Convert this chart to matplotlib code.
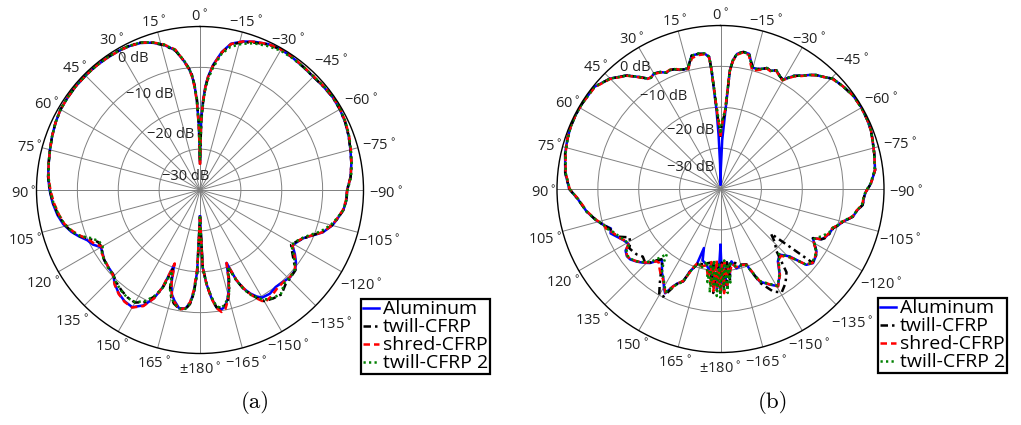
import numpy as np
import matplotlib
matplotlib.use("Agg")
import matplotlib.pyplot as plt
from matplotlib import font_manager

# first installed humanist sans
FONT = 'DejaVu Sans'
for name in ['Open Sans', 'Lato', 'Noto Sans']:
    try:
        font_manager.findfont(font_manager.FontProperties(family=name),
                              fallback_to_default=False)
        FONT = name
        break
    except Exception:
        pass
plt.rcParams['font.family'] = [FONT, 'DejaVu Sans']
plt.rcParams['mathtext.fontset'] = 'dejavusans'

# ---- data: angle (deg, ccw from top) and normalised gain (dB) ----
SERIES = ['Aluminum', 'twill-CFRP', 'shred-CFRP', 'twill-CFRP 2']

A_ANG = [-180, -178, -176, -174, -172, -170, -168, -166, -164, -162,
         -160, -158, -156, -154, -152, -150, -146, -142, -138, -134,
         -130, -127, -124, -121, -118, -115, -112, -109, -105, -102,
         -98, -94, -90, -85, -80, -75, -70, -65, -60, -55,
         -50, -45, -40, -35, -30, -25, -20, -16, -12, -9,
         -6, -4, -3, -2, -1, 0, 1, 2, 3, 4,
         5, 7, 10, 14, 18, 22, 26, 30, 35, 40,
         45, 50, 55, 60, 65, 70, 75, 80, 85, 90,
         95, 100, 104, 108, 111, 114, 117, 120, 123, 126,
         130, 134, 138, 142, 146, 150, 154, 157, 159, 161,
         163, 165, 167, 170, 173, 175, 176.5, 178, 180]

A_ALU = [-33.5, -21.0, -16.9, -13.5, -11.0, -10.3, -10.8, -12.3, -14.5, -17.5,
         -21.0, -16.1, -13.5, -11.8, -10.5, -9.6, -9.4, -9.9, -9.7, -9.3,
         -9.6, -10.6, -12.0, -13.6, -13.0, -12.1, -10.3, -8.2, -6.5, -5.7,
         -4.6, -4.1, -4.0, -3.0, -2.4, -1.9, -1.3, -0.8, -0.5, -0.4,
         -0.6, -0.8, -0.7, -0.5, -0.3, -0.6, -1.4, -2.2, -3.4, -5.8,
         -9.2, -12.3, -14.6, -18.0, -22.5, -33.0, -24.5, -18.0, -14.5, -12.0,
         -10.5, -8.3, -5.3, -3.4, -2.1, -1.2, -0.8, -0.6, -0.5, -0.4,
         -0.4, -0.4, -0.5, -0.6, -1.0, -1.5, -2.0, -2.4, -2.7, -3.2,
         -3.8, -4.6, -5.5, -6.9, -8.3, -9.8, -10.6, -12.0, -11.6, -11.0,
         -10.7, -10.4, -8.9, -7.8, -7.1, -6.9, -8.6, -11.3, -14.5, -20.5,
         -16.0, -13.5, -12.2, -10.6, -10.8, -12.3, -15.0, -20.0, -33.5]

A_TWILL = [-33.5, -21.0, -16.9, -13.5, -11.0, -10.8, -11.0, -12.0, -14.0, -17.0,
           -20.0, -16.0, -13.3, -11.5, -10.0, -8.6, -8.0, -7.6, -8.8, -9.2,
           -9.5, -11.3, -12.8, -14.0, -13.2, -12.0, -10.4, -8.4, -6.6, -5.7,
           -4.6, -4.1, -4.0, -3.0, -2.4, -1.9, -1.3, -0.8, -0.5, -0.4,
           -0.6, -0.8, -0.7, -0.5, -0.3, -0.7, -1.6, -2.4, -3.6, -6.0,
           -9.5, -12.6, -15.0, -18.5, -23.0, -33.5, -24.0, -17.5, -14.2, -11.8,
           -10.3, -8.2, -5.4, -3.5, -2.1, -1.1, -0.7, -0.5, -0.4, -0.4,
           -0.4, -0.4, -0.5, -0.6, -1.0, -1.5, -2.0, -2.4, -2.7, -3.2,
           -3.9, -4.8, -5.7, -7.0, -8.5, -10.5, -12.0, -12.2, -11.5, -11.0,
           -10.6, -10.4, -9.5, -8.8, -8.3, -8.2, -9.5, -11.8, -14.0, -19.5,
           -15.0, -12.8, -11.5, -10.5, -10.6, -12.0, -14.5, -19.5, -33.0]

A_SHRED = [-33.5, -21.0, -16.8, -13.4, -10.8, -9.7, -10.2, -12.0, -14.4, -17.5,
           -21.0, -16.3, -13.6, -11.5, -9.8, -8.3, -8.7, -9.4, -9.6, -9.4,
           -9.7, -10.8, -12.2, -13.6, -13.1, -12.2, -10.4, -8.3, -6.6, -5.8,
           -4.7, -4.2, -4.0, -3.0, -2.4, -1.8, -1.2, -0.7, -0.4, -0.3,
           -0.5, -0.7, -0.6, -0.4, -0.3, -0.6, -1.4, -2.2, -3.5, -5.9,
           -9.3, -12.4, -14.8, -18.2, -23.0, -34.0, -25.0, -18.5, -14.8, -12.2,
           -10.6, -8.3, -5.1, -3.3, -2.0, -1.2, -0.8, -0.6, -0.5, -0.4,
           -0.4, -0.4, -0.5, -0.6, -1.0, -1.5, -2.0, -2.4, -2.8, -3.4,
           -4.1, -5.0, -5.8, -7.3, -8.7, -10.2, -11.0, -12.3, -11.4, -11.1,
           -10.7, -10.3, -8.8, -7.7, -7.0, -6.8, -8.4, -11.2, -14.6, -21.0,
           -16.2, -13.3, -12.0, -10.3, -10.9, -12.5, -15.5, -21.0, -33.5]

A_TWILL2 = [-33.5, -21.0, -17.0, -13.8, -11.3, -10.7, -11.2, -12.4, -14.2, -17.2,
            -20.0, -16.0, -13.2, -11.4, -10.2, -9.0, -8.1, -7.8, -9.2, -9.3,
            -9.7, -11.0, -12.5, -13.9, -13.3, -12.3, -10.8, -8.8, -6.9, -5.9,
            -4.6, -4.1, -3.9, -2.9, -2.3, -1.8, -1.2, -0.7, -0.4, -0.3,
            -0.5, -0.7, -0.7, -0.6, -0.6, -1.1, -1.8, -2.8, -4.2, -6.3,
            -10.0, -13.0, -15.5, -19.0, -23.5, -32.5, -24.0, -17.8, -14.3, -11.9,
            -10.4, -8.1, -5.2, -3.3, -2.0, -1.1, -0.7, -0.5, -0.4, -0.4,
            -0.4, -0.4, -0.5, -0.6, -1.0, -1.5, -2.0, -2.4, -2.8, -3.3,
            -4.0, -4.9, -5.8, -7.1, -8.6, -11.0, -12.3, -12.5, -11.4, -11.0,
            -10.6, -10.3, -9.4, -8.7, -8.2, -8.3, -9.8, -12.0, -14.3, -19.0,
            -14.8, -12.9, -11.6, -10.6, -10.7, -12.1, -14.6, -19.5, -33.5]

B_ANG = [-180, -179, -178, -177, -176, -175, -174, -173, -171.4, -168.6, -164.6,
         -161, -159.5,
         -157, -152.8, -149.4, -145.4, -141.6, -138, -134.3, -131.5, -128.7, -125,
         -123, -120, -118, -116.5, -115.3, -112, -109.2, -107, -105, -101.8,
         -99, -96.4, -93, -91, -88, -83, -77, -72, -68.7, -65,
         -60, -55, -50, -45.5, -43, -40, -38, -36, -33, -31,
         -29.7, -28, -25.2, -23, -21, -19.5, -17, -15, -13.5, -12,
         -9.5, -7, -5.5, -4.5, -3.4, -2, -1, 0, 1, 2,
         2.9, 4.3, 4.9, 6.6, 9.3, 12.2, 14, 15, 17, 19,
         21, 23, 25, 27.3, 30, 32, 33.5, 35.7, 39.5, 45,
         51, 58.7, 63, 67.5, 72, 77, 84, 90, 94, 99.6,
         104, 107, 109.8, 112, 115, 118, 121, 123, 125.7, 128,
         131, 134, 136.4, 138.5, 140.5, 142.5, 145, 147.3, 150, 152,
         154, 155.5, 158, 159.6, 161, 162.5, 164.3,
         166, 169.6, 172, 173, 174, 175, 176, 177, 178, 179, 180]

B_ALU = [-26.3, -17.0, -21.0, -16.5, -20.0, -22.0, -18.0, -21.0, -22.1, -20.2, -20.7,
         -20.4, -18.5,
         -15.4, -13.7, -12.4, -14.5, -17.4, -18.4, -16.4, -12.0, -11.0, -11.5,
         -12.0, -13.5, -14.4, -12.5, -11.9, -11.2, -10.9, -9.8, -9.0, -6.9,
         -6.2, -5.0, -4.8, -4.4, -3.2, -1.9, -1.4, -0.9, -0.5, -0.3,
         -0.15, -0.3, -0.9, -1.5, -2.6, -3.6, -4.6, -5.7, -7.0, -8.4,
         -9.2, -8.9, -7.9, -8.6, -8.3, -8.8, -9.3, -9.3, -8.0, -6.2,
         -6.0, -6.7, -8.4, -11.0, -22.4, -28.0, -35.0, -39.0, -34.0, -27.0,
         -20.7, -10.9, -7.6, -6.7, -6.5, -6.6, -8.4, -9.5, -9.4, -9.2,
         -8.6, -8.4, -8.6, -7.8, -7.4, -7.9, -7.6, -6.3, -4.0, -1.8,
         -0.3, -0.2, -0.2, -0.3, -0.6, -1.0, -1.8, -3.0, -5.0, -6.8,
         -8.6, -10.0, -11.5, -11.0, -12.2, -13.2, -13.8, -12.3, -11.8, -12.0,
         -12.9, -14.0, -15.0, -16.5, -17.5, -16.5, -15.0, -14.1, -12.3, -11.1,
         -13.5, -14.6, -15.6, -18.5, -19.5, -20.6, -25.0,
         -22.0, -21.1, -20.0, -21.8, -18.0, -21.5, -16.0, -19.5, -15.5, -21.0, -26.3]

B_TWILL = [-14.5, -22.0, -15.0, -21.5, -16.0, -22.0, -17.5, -21.5, -22.0, -21.5, -20.8,
           -20.5, -18.5,
           -15.0, -11.8, -10.6, -12.0, -14.0, -19.5, -21.5, -23.5, -11.2, -11.5,
           -12.0, -13.6, -14.4, -12.4, -11.8, -11.1, -10.8, -9.8, -9.0, -6.9,
           -6.2, -5.0, -4.8, -4.4, -3.2, -1.9, -1.4, -0.9, -0.5, -0.3,
           -0.2, -0.3, -0.9, -1.5, -2.6, -3.6, -4.6, -5.7, -7.0, -8.4,
           -9.2, -8.9, -7.9, -8.6, -8.3, -8.8, -9.3, -9.3, -8.0, -6.2,
           -6.0, -6.7, -8.4, -11.0, -21.5, -23.0, -24.5, -27.0, -24.5, -23.0,
           -20.0, -10.9, -7.6, -6.7, -6.5, -6.6, -8.4, -9.5, -9.4, -9.2,
           -8.6, -8.4, -8.6, -7.8, -7.4, -7.9, -7.6, -6.3, -4.0, -1.8,
           -0.3, -0.2, -0.2, -0.3, -0.6, -1.0, -1.8, -3.0, -5.0, -6.8,
           -8.6, -10.0, -11.3, -11.4, -12.4, -14.8, -14.2, -13.4, -13.7, -14.0,
           -14.8, -14.3, -15.2, -16.8, -17.8, -16.5, -14.5, -12.5, -10.0, -10.2,
           -13.0, -14.5, -15.7, -18.3, -19.5, -20.6, -21.5,
           -21.0, -21.5, -21.8, -21.8, -18.0, -22.0, -14.5, -20.5, -22.0, -16.0, -14.5]

B_SHRED = [-15.0, -21.5, -14.5, -22.0, -16.5, -21.0, -19.0, -20.0, -21.5, -20.5, -20.7,
           -20.4, -18.8,
           -15.6, -13.8, -12.3, -14.4, -17.2, -18.0, -16.0, -12.2, -11.1, -11.6,
           -12.1, -13.6, -14.3, -12.6, -12.0, -11.3, -11.0, -9.9, -9.1, -7.0,
           -6.3, -5.1, -4.9, -4.4, -3.2, -1.9, -1.4, -0.9, -0.5, -0.3,
           -0.2, -0.3, -0.9, -1.6, -2.6, -3.7, -4.6, -5.8, -7.2, -8.5,
           -9.4, -9.0, -8.0, -8.7, -8.4, -9.0, -9.6, -10.0, -8.5, -6.5,
           -6.1, -6.9, -8.6, -11.2, -20.5, -23.0, -25.0, -27.5, -25.0, -23.0,
           -19.5, -11.0, -7.8, -6.8, -6.8, -7.2, -8.6, -9.6, -9.4, -9.1,
           -8.5, -8.3, -8.5, -7.9, -7.5, -7.8, -7.7, -6.4, -4.1, -1.9,
           -0.4, -0.2, -0.2, -0.3, -0.6, -1.1, -1.9, -3.1, -5.1, -6.9,
           -8.7, -10.1, -10.5, -11.6, -12.3, -13.3, -13.7, -12.4, -11.9, -12.1,
           -13.0, -14.1, -15.2, -16.4, -16.5, -15.5, -14.5, -13.9, -12.5, -11.3,
           -13.4, -14.5, -15.8, -18.0, -19.8, -20.8, -21.0,
           -20.5, -21.0, -18.0, -22.0, -16.0, -21.0, -15.0, -22.5, -16.0, -20.0, -15.0]

B_TWILL2 = [-13.3, -20.5, -15.5, -22.5, -14.5, -21.0, -17.0, -22.0, -21.0, -20.8, -20.6,
            -20.2, -18.6,
            -15.5, -13.9, -12.5, -14.6, -17.0, -18.6, -16.2, -12.1, -11.2, -11.7,
            -12.2, -13.4, -14.0, -13.5, -12.8, -11.4, -11.0, -9.9, -9.2, -7.1,
            -6.2, -5.2, -4.9, -4.5, -3.3, -2.0, -1.4, -0.9, -0.5, -0.3,
            -0.2, -0.3, -0.9, -1.5, -2.6, -3.6, -4.6, -5.7, -7.0, -8.4,
            -9.2, -8.9, -7.9, -8.6, -8.3, -8.8, -9.3, -9.4, -8.1, -6.3,
            -6.0, -6.6, -8.3, -10.8, -21.0, -22.5, -24.0, -26.5, -24.0, -22.0,
            -19.0, -10.7, -7.5, -6.6, -6.4, -6.6, -8.3, -9.4, -9.3, -9.1,
            -8.6, -8.4, -8.6, -7.8, -7.4, -7.9, -7.6, -6.3, -4.0, -1.8,
            -0.3, -0.2, -0.2, -0.3, -0.7, -1.1, -1.9, -3.1, -5.0, -6.8,
            -8.6, -10.1, -10.8, -11.8, -12.6, -13.4, -13.9, -12.6, -12.0, -12.2,
            -13.0, -14.2, -15.5, -17.5, -19.4, -17.0, -15.0, -14.2, -12.6, -11.5,
            -13.2, -14.4, -15.5, -18.2, -19.6, -20.5, -20.8,
            -20.0, -22.0, -17.0, -21.5, -14.5, -22.5, -16.0, -20.0, -13.8, -21.5, -13.3]

# tick labels
TH_TICKS = list(range(0, 181, 15)) + list(range(-165, 0, 15))
R_TICKS = [-30, -20, -10]
R_LABELS = ['\u221230 dB', '\u221220 dB', '\u221210 dB', '0 dB']

# ---- styling / layout ----
COLORS = ['#0000ff', 'black', '#ff0000', '#008000']
DASHES = [None, (3.0, 1.6, 1.0, 1.6), (2.6, 1.6), (0.9, 1.3)]
W, H = 1021, 425
RAD = 163.5
CENTERS = [(200.0, 190.0), (720.5, 189.0)]
# dB label offsets (fraction of radius) for each panel
DB_OFFS = [[(-0.09, 0.083), (-0.18, 0.34), (-0.31, 0.585), (-0.407, 0.805)],
           [(-0.181, 0.132), (-0.183, 0.356), (-0.346, 0.567), (-0.52, 0.742)]]
LABEL_DROP = 4.0 / (2 * RAD)   # small downward shift of angle labels
LEGEND_POS = [(361, 374), (878, 373)]
CAPTIONS = ['(a)', '(b)']
CAPTION_X = [255, 773]


def tick_text(a):
    if a == 180:
        s = '\u00b1180'
    elif a < 0:
        s = '\u2212%d' % (-a)
    else:
        s = '%d' % a
    return s + r'$^\circ$'


def label_fac(a):
    s = -np.sin(np.deg2rad(a))  # >0 on right side
    if s > 0.6:
        return 1.135
    if s < -0.6 and abs(a) > 100:
        return 1.11
    return 1.08


fig = plt.figure(figsize=(W / 100, H / 100), dpi=100)

panels = [(A_ANG, [A_ALU, A_TWILL, A_SHRED, A_TWILL2]),
          (B_ANG, [B_ALU, B_TWILL, B_SHRED, B_TWILL2])]

for k, (ang, data) in enumerate(panels):
    cx, cy = CENTERS[k]
    ax = fig.add_axes([(cx - RAD) / W, (H - cy - RAD) / H, 2 * RAD / W, 2 * RAD / H],
                      projection='polar')
    ax.set_theta_zero_location('N')
    ax.set_theta_direction(1)
    ax.set_ylim(-40, 0)
    ax.set_xticks(np.deg2rad(np.arange(0, 360, 15)))
    ax.set_xticklabels([])
    ax.set_yticks(R_TICKS)
    ax.set_yticklabels([])
    ax.grid(True, color='#808080', lw=0.7)
    ax.set_axisbelow(True)
    ax.spines['polar'].set_color('black')
    ax.spines['polar'].set_linewidth(1.0)

    th = np.deg2rad(ang)
    handles = []
    for vals, c, d, name in zip(data, COLORS, DASHES, SERIES):
        if d is None:
            h, = ax.plot(th, vals, color=c, lw=1.8, label=name)
        else:
            h, = ax.plot(th, vals, color=c, lw=1.8, dashes=d, label=name)
        handles.append(h)

    for a in TH_TICKS:
        f = label_fac(a)
        t = np.deg2rad(a)
        ax.text(0.5 - 0.5 * f * np.sin(t), 0.5 + 0.5 * f * np.cos(t) - LABEL_DROP,
                tick_text(a), transform=ax.transAxes, ha='center', va='center',
                fontsize=10.5, color='#222222')

    for (dx, dy), lab in zip(DB_OFFS[k], R_LABELS):
        ax.text(0.5 + 0.5 * dx, 0.5 + 0.5 * dy, lab, transform=ax.transAxes,
                ha='center', va='center', fontsize=10.5, color='#222222')

    lx, ly = LEGEND_POS[k]
    leg = fig.legend(handles=handles, loc='lower left',
                     bbox_to_anchor=(lx / W, 1 - ly / H), borderaxespad=0,
                     fontsize=14, handlelength=0.85, handletextpad=0.2,
                     borderpad=0.08, labelspacing=0.0, fancybox=False,
                     framealpha=1)
    leg.get_frame().set_edgecolor('black')
    leg.get_frame().set_linewidth(1.6)

    fig.text(CAPTION_X[k] / W, 1 - 403 / H, CAPTIONS[k], ha='center', va='center',
             fontfamily='cmr10', fontsize=16.5)

fig.savefig('out.png', dpi=100)
